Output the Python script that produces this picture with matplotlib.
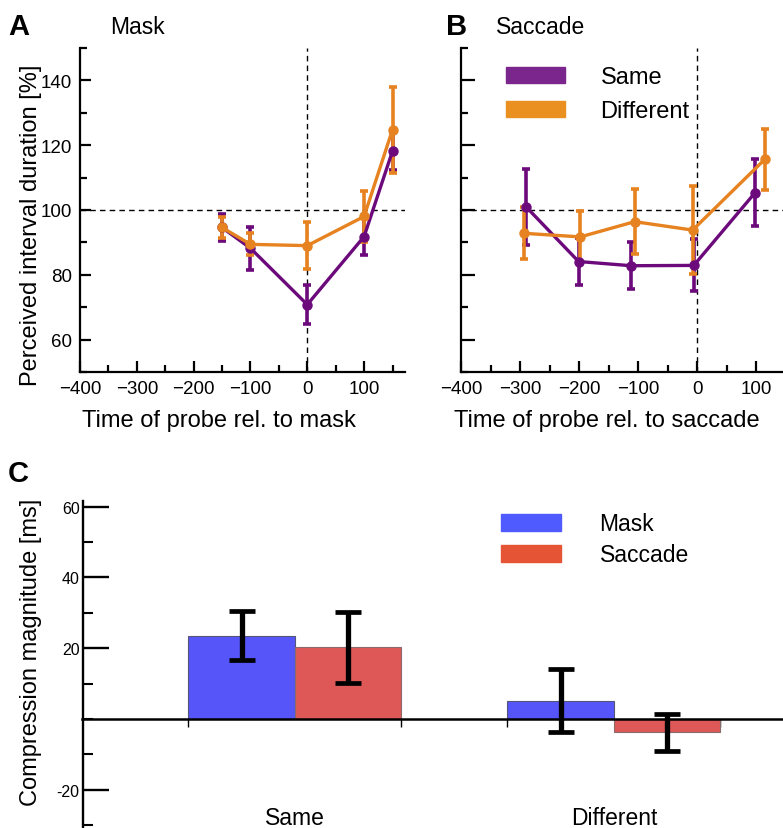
import numpy as np
import matplotlib
matplotlib.use("Agg")
import matplotlib.pyplot as plt
from matplotlib.patches import Patch
from matplotlib.ticker import MultipleLocator

plt.rcParams['font.family'] = ['Liberation Sans', 'DejaVu Sans']

# panel A: mask
mask_t = [-150, -100, 0, 100, 150]
mask_same = [94.6, 88.2, 70.8, 91.8, 118.2]
mask_same_err = [4.3, 6.7, 5.9, 5.6, 6.0]
mask_diff = [94.6, 89.4, 89.0, 98.0, 124.8]
mask_diff_err = [3.3, 3.4, 7.3, 7.8, 13.3]

# panel B: saccade
sac_t_same = [-290, -201, -112, -6, 98]
sac_same = [101.0, 84.1, 82.8, 82.9, 105.4]
sac_same_err = [11.7, 7.2, 7.2, 8.0, 10.3]
sac_t_diff = [-293, -198, -106, -8, 114]
sac_diff = [92.8, 91.7, 96.4, 93.8, 115.6]
sac_diff_err = [8.0, 8.0, 10.0, 13.7, 9.4]

# panel C: compression magnitude
groups = ['Same', 'Different']
comp_mask = [23.5, 5.2]
comp_mask_err = [6.9, 8.8]
comp_sac = [20.3, -3.8]
comp_sac_err = [10.0, 5.2]

purple = '#6c0a7c'
orange = '#e6821f'

W, H = 783, 829
fig = plt.figure(figsize=(W / 100, H / 100), dpi=100)

def box(l, t, r, b):
    return [l / W, 1 - b / H, (r - l) / W, (b - t) / H]

def line_panel(ax, xs1, y1, e1, xs2, y2, e2, xlim):
    for xs, y, e, c in [(xs1, y1, e1, purple), (xs2, y2, e2, orange)]:
        ax.errorbar(xs, y, yerr=e, color=c, lw=2.4, marker='o', ms=6.5,
                    elinewidth=2.6, capsize=3, capthick=2.6, zorder=3)
    ax.axhline(100, color='k', ls=(0, (4, 3)), lw=1)
    ax.axvline(0, color='k', ls=(0, (4, 3)), lw=1)
    ax.set_xlim(*xlim)
    ax.set_ylim(50, 150)
    ax.xaxis.set_minor_locator(MultipleLocator(50))
    ax.yaxis.set_minor_locator(MultipleLocator(10))
    for s in ['top', 'right']:
        ax.spines[s].set_visible(False)
    for s in ['left', 'bottom']:
        ax.spines[s].set_linewidth(1.6)
    ax.tick_params(which='major', direction='in', length=8, width=1.6, labelsize=13.5, pad=6)
    ax.tick_params(which='minor', direction='in', length=5, width=1.6)
    ax.set_xticks([-400, -300, -200, -100, 0, 100])
    ax.set_xticklabels(['\u2212400', '\u2212300', '\u2212200', '\u2212100', '0', '100'])
    ax.set_yticks([60, 80, 100, 120, 140])

axA = fig.add_axes(box(80, 49, 405, 373))
line_panel(axA, mask_t, mask_same, mask_same_err, mask_t, mask_diff, mask_diff_err, (-400, 172))
axA.set_ylabel('Perceived interval duration [%]', fontsize=17)
axA.yaxis.set_label_coords(-0.117, 0.457)
axA.set_xlabel('Time of probe rel. to mask', fontsize=17)
axA.xaxis.set_label_coords(0.426, -0.115)

axB = fig.add_axes(box(461, 49, 783, 373))
line_panel(axB, sac_t_same, sac_same, sac_same_err, sac_t_diff, sac_diff, sac_diff_err, (-400, 145))
axB.set_yticklabels([])
axB.tick_params(axis='y', which='major', length=10)
axB.set_xlabel('Time of probe rel. to saccade', fontsize=17)
axB.xaxis.set_label_coords(0.453, -0.115)
axB.legend(handles=[Patch(color='#7b268d', label='Same'), Patch(color='#ea9020', label='Different')],
           loc='upper left', bbox_to_anchor=(0.14, 0.943), frameon=False, fontsize=17,
           borderpad=0, borderaxespad=0,
           handlelength=2.5, handleheight=0.7, handletextpad=1.5, labelspacing=0.5)

fig.text(8 / W, 1 - 27 / H, 'A', fontsize=21, fontweight='bold', va='center')
fig.text(110 / W, 1 - 27 / H, 'Mask', fontsize=16.5, va='center')
fig.text(446 / W, 1 - 27 / H, 'B', fontsize=21, fontweight='bold', va='center')
fig.text(496 / W, 1 - 27 / H, 'Saccade', fontsize=16.5, va='center')
fig.text(8 / W, 1 - 474 / H, 'C', fontsize=21, fontweight='bold', va='center')

# panel C
axC = fig.add_axes(box(82.5, 501.7, 783, 829))
x = np.arange(len(groups))
bw = 0.334
axC.bar(x - bw / 2, comp_mask, bw, color='#5555fa', edgecolor='#55557a', lw=0.8, zorder=2)
axC.bar(x + bw / 2, comp_sac, bw, color='#de5858', edgecolor='#8a6a6a', lw=0.8, zorder=2)
axC.errorbar(x - bw / 2, comp_mask, yerr=comp_mask_err, fmt='none', ecolor='k',
             elinewidth=3.8, capsize=9.5, capthick=3.4, zorder=3)
axC.errorbar(x + bw / 2, comp_sac, yerr=comp_sac_err, fmt='none', ecolor='k',
             elinewidth=3.8, capsize=9.5, capthick=3.4, zorder=3)
axC.set_xlim(-0.666, 1.53)
axC.set_ylim(-30.8, 61.7)
for s in ['top', 'right']:
    axC.spines[s].set_visible(False)
axC.spines['bottom'].set_position(('data', 0))
axC.spines['bottom'].set_linewidth(1.8)
axC.spines['left'].set_linewidth(1.7)
axC.set_xticks([x[0] - bw, x[0] + bw, x[1] - bw, x[1] + bw])
axC.set_xticklabels([])
axC.tick_params(axis='x', direction='out', length=6, width=1)
axC.yaxis.set_minor_locator(MultipleLocator(10))
axC.set_yticks([-20, 20, 40, 60])
axC.set_yticklabels(['-20', '20', '40', '60'])
axC.tick_params(axis='y', which='major', direction='in', length=19, width=1.7, labelsize=11.5, pad=2)
axC.tick_params(axis='y', which='minor', direction='in', length=7, width=1.5)
axC.set_ylabel('Compression magnitude [ms]', fontsize=17)
axC.yaxis.set_label_coords(-0.058, 0.54)
for xi, g in zip(x, groups):
    axC.text(xi, -27.7, g, ha='center', va='center', fontsize=16.5)
axC.legend(handles=[Patch(color='#4f5bff', label='Mask'), Patch(color='#e55535', label='Saccade')],
           loc='upper left', bbox_to_anchor=((501 - 82.5) / 700.5, 0.965), frameon=False,
           fontsize=16.5, borderpad=0, borderaxespad=0,
           handlelength=2.6, handleheight=0.75, handletextpad=1.7, labelspacing=0.35)

fig.savefig('out.png', dpi=100)
